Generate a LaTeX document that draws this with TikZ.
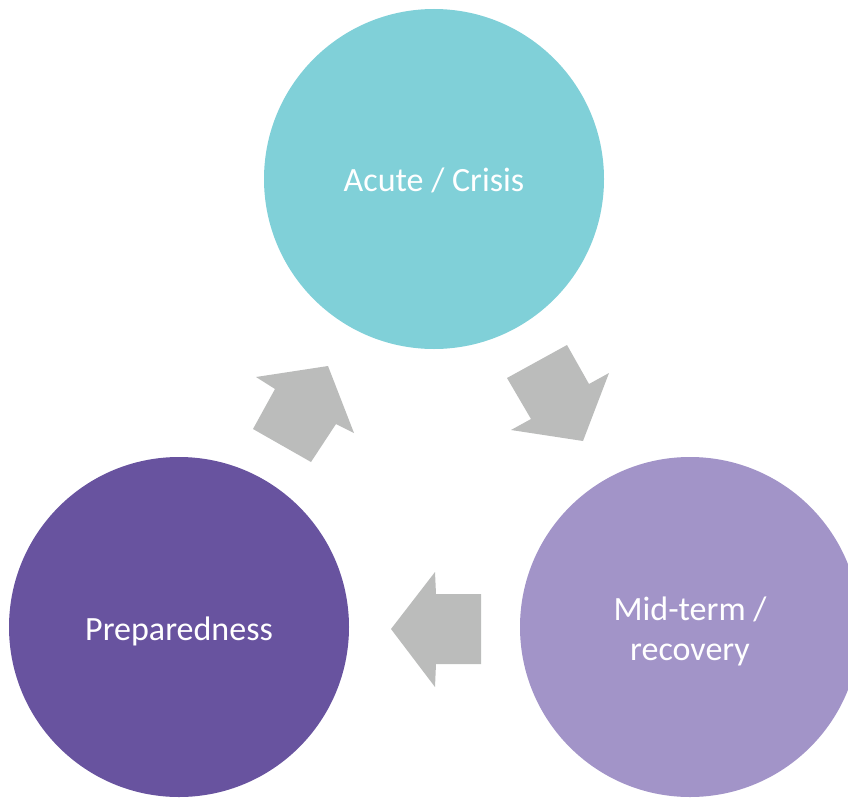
\documentclass[tikz,border=0pt]{standalone}
\usepackage{fontspec}
\setmainfont{Carlito}
\definecolor{acute}{RGB}{128,208,216}
\definecolor{prep}{RGB}{104,83,159}
\definecolor{mid}{RGB}{162,148,200}
\definecolor{arr}{RGB}{187,188,187}
\tikzset{
  phase/.style={circle, minimum size=340pt, inner sep=0pt},
  phasetext/.style={text=white, align=center, yshift=-4pt,
    font=\fontsize{34}{40}\selectfont},
  blockarrow/.style={fill=arr, draw=none}
}
\begin{document}
\begin{tikzpicture}[x=1pt,y=-1pt]
\useasboundingbox (0,0) rectangle (848,800);
\clip (0,0) rectangle (848,800);
\node[phase, fill=acute, label={[phasetext, yshift=3pt]center:Acute / Crisis}] (acute) at (434,179) {};
\node[phase, fill=prep, label={[phasetext]center:Preparedness}] (prep) at (179,627) {};
\node[phase, fill=mid, label={[phasetext]center:{Mid-term /\\recovery}}] (mid) at (690,627) {};
% arrow preparedness -> acute
\fill[blockarrow] (328,366) -- (354,433) -- (336,424) -- (311,462) -- (253,429) -- (275,389) -- (256,377) -- cycle;
% arrow acute -> mid-term
\fill[blockarrow] (583,441) -- (609,373) -- (589,384) -- (567,345) -- (507,378) -- (531,419) -- (511,430) -- cycle;
% arrow mid-term -> preparedness
\fill[blockarrow] (391,629) -- (435,572) -- (436,594) -- (481,594) -- (481,664) -- (436,664) -- (435,687) -- cycle;
\end{tikzpicture}
\end{document}
